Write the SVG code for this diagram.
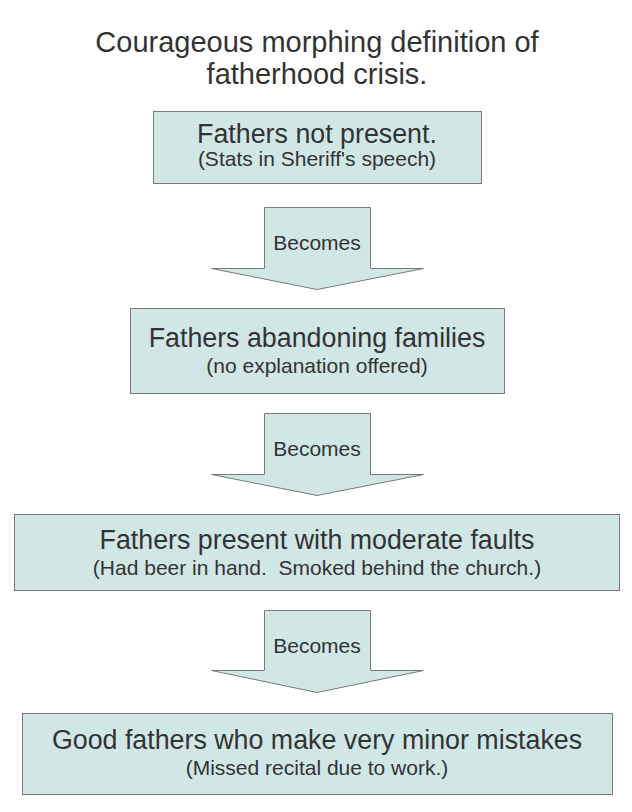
<svg xmlns="http://www.w3.org/2000/svg" width="632" height="812" viewBox="0 0 632 812">
<style>
.box{fill:#d0e7e5;stroke:#7a7a7a;stroke-width:1}
.arr{fill:#d0e7e5;stroke:#7a7a7a;stroke-width:1}
text{font-family:"Liberation Sans",Arial,sans-serif;fill:#333;text-anchor:middle}
.t{font-size:29px}
.h{font-size:26.8px}
.s{font-size:21px}
.b{font-size:21px}
</style>
<rect width="632" height="812" fill="#fff"/>
<g id="title">
<text class="t" x="317" y="52">Courageous morphing definition of</text>
<text class="t" x="317" y="84">fatherhood crisis.</text>
</g>
<g id="node1">
<rect class="box" x="153.5" y="111.5" width="328" height="72"/>
<text class="h" x="317" y="143">Fathers not present.</text>
<text class="s" x="317" y="166">(Stats in Sheriff's speech)</text>
</g>
<g id="node2">
<rect class="box" x="130.5" y="308.5" width="374" height="85"/>
<text class="h" x="317" y="347">Fathers abandoning families</text>
<text class="s" x="317" y="373">(no explanation offered)</text>
</g>
<g id="node3">
<rect class="box" x="14.5" y="514.5" width="605" height="76"/>
<text class="h" x="317" y="549">Fathers present with moderate faults</text>
<text class="s" x="317" y="575" xml:space="preserve">(Had beer in hand.  Smoked behind the church.)</text>
</g>
<g id="node4">
<rect class="box" x="22.5" y="713.5" width="590" height="81"/>
<text class="h" x="317" y="749">Good fathers who make very minor mistakes</text>
<text class="s" x="317" y="775">(Missed recital due to work.)</text>
</g>
<g id="connectors">
<g id="arrow1">
<polygon class="arr" points="264.5,207.5 370.5,207.5 370.5,268.5 423.5,268.5 317,289.5 211.5,268.5 264.5,268.5"/>
<text class="b" x="317" y="250">Becomes</text>
</g>
<g id="arrow2">
<polygon class="arr" points="264.5,413.5 370.5,413.5 370.5,474.5 423.5,474.5 317,495.5 211.5,474.5 264.5,474.5"/>
<text class="b" x="317" y="456">Becomes</text>
</g>
<g id="arrow3">
<polygon class="arr" points="264.5,610.5 370.5,610.5 370.5,670.5 423.5,670.5 317,692.5 211.5,670.5 264.5,670.5"/>
<text class="b" x="317" y="653">Becomes</text>
</g>
</g>
</svg>
